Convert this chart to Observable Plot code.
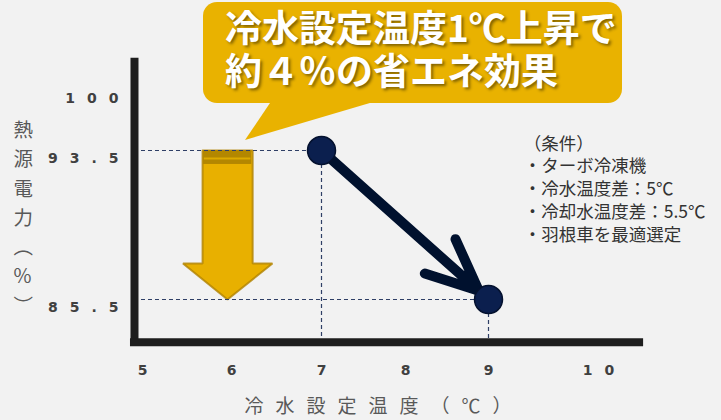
<!DOCTYPE html>
<html><head><meta charset="utf-8">
<script src="https://cdn.jsdelivr.net/npm/d3@7"></script>
<script src="https://cdn.jsdelivr.net/npm/@observablehq/plot@0.6"></script>
<style>
body{margin:0;background:#f2f2f2;}
#wrap{position:relative;width:721px;height:420px;overflow:hidden;}
#wrap svg{position:absolute;left:0;top:0;}
[aria-label="x-axis tick label"] text,[aria-label="y-axis tick label"] text{letter-spacing:12px;}
.bubble{position:absolute;left:203px;top:2px;width:419px;height:101px;border-radius:14px;background:#e9b200;}
.tail{position:absolute;left:245px;top:100px;width:135px;height:40px;background:#e9b200;clip-path:polygon(27px 0px,135px 0px,0px 40px);}
.tline{position:absolute;left:225px;font-family:"Noto Sans CJK JP",sans-serif;font-weight:700;font-size:37px;line-height:43px;height:43px;color:#fff;text-shadow:2px 2px 3px rgba(0,0,0,0.45);white-space:nowrap;}
</style></head><body><div id="wrap"></div>
<script>
// data
const xTicks = [5, 6, 7, 8, 9, 10];
const yTicks = [85.5, 93.5, 100];
const points = [{temp: 7, power: 93.5}, {temp: 9, power: 85.5}];
const titleLines = ["冷水設定温度1℃上昇で", "約４％の省エネ効果"];
const conditions = ["（条件）", "・ターボ冷凍機", "・冷水温度差：5℃", "・冷却水温度差：5.5℃", "・羽根車を最適選定"];
const xLabel = "冷水設定温度（℃）";
const yLabel = ["熱", "源", "電", "力", "︵", "%", "︶"];
// axis extents (data units)
const xAxisStart = 4.91, xAxisEnd = 10.41, yAxisBottom = 83.2, yAxisTop = 103.5;
// yellow down-arrow shape (data units)
const arrowCenter = 5.955, shaftHalf = 0.28, headHalf = 0.5, headBase = 87.43;
const arrowTop = points[0].power, arrowTip = points[1].power;
const arrowShape = [
  [arrowCenter - shaftHalf, arrowTop], [arrowCenter + shaftHalf, arrowTop],
  [arrowCenter + shaftHalf, headBase], [arrowCenter + headHalf, headBase],
  [arrowCenter, arrowTip], [arrowCenter - headHalf, headBase],
  [arrowCenter - shaftHalf, headBase], [arrowCenter - shaftHalf, arrowTop]
].map(([x, y]) => ({x, y}));

const plot = Plot.plot({
  width: 721, height: 420,
  marginLeft: 134, marginRight: 78, marginTop: 58, marginBottom: 74,
  style: {background: "#f2f2f2", fontFamily: "'Noto Sans CJK JP', sans-serif", overflow: "visible"},
  x: {type: "linear", domain: xTicks, range: [142, 231, 321, 405, 488, 598], axis: null},
  y: {type: "linear", domain: yTicks, range: [299, 150, 90], axis: null},
  marks: [
    // yellow arrow
    Plot.line(arrowShape, {x: "x", y: "y", fill: "#e8b000", stroke: "#b08200", strokeWidth: 2, strokeLinejoin: "miter", strokeOpacity: 0.8}),
    Plot.rect([0], {x1: arrowCenter - shaftHalf + 0.01, x2: arrowCenter + shaftHalf - 0.01, y1: arrowTop, y2: arrowTop - 0.75, fill: "#b38700"}),
    Plot.ruleY([arrowTop - 0.43], {x1: arrowCenter - shaftHalf + 0.02, x2: arrowCenter + shaftHalf - 0.02, stroke: "#dcaa00", strokeWidth: 2}),
    // guide lines
    Plot.ruleY(points, {y: "power", x1: xAxisStart, x2: "temp", stroke: "#2f3f66", strokeWidth: 1.2, strokeDasharray: "4,3"}),
    Plot.ruleX(points, {x: "temp", y1: "power", y2: yAxisBottom, stroke: "#2f3f66", strokeWidth: 1.2, strokeDasharray: "4,3"}),
    // axis lines
    Plot.ruleX([xAxisStart], {y1: 83.0, y2: yAxisTop, stroke: "#1e1e1e", strokeWidth: 8}),
    Plot.ruleY([yAxisBottom], {x1: 4.865, x2: xAxisEnd, stroke: "#1e1e1e", strokeWidth: 8}),
    // navy arrow + points
    Plot.arrow([0], {x1: points[0].temp, y1: points[0].power, x2: points[1].temp, y2: points[1].power,
      stroke: "#00112e", strokeWidth: 10, headAngle: 48, headLength: 8.5, insetEnd: 13, strokeLinecap: "round", strokeLinejoin: "round"}),
    Plot.dot(points, {x: "temp", y: "power", r: 14, fill: "#0b1f4e", stroke: "#04112e", strokeWidth: 1.5}),
    // tick labels
    Plot.axisX({ticks: xTicks, anchor: "bottom", tickSize: 0, tickPadding: 19, label: null, tickFormat: d => String(d),
      fontSize: 14, fontWeight: "bold", fill: "#404040", fontFamily: "DejaVu Sans", dx: 6}),
    Plot.axisY({ticks: yTicks, anchor: "left", tickSize: 0, tickPadding: 4, label: null, tickFormat: d => String(d),
      fontSize: 14, fontWeight: "bold", fill: "#404040", fontFamily: "DejaVu Sans", dy: 8}),
    // axis titles
    Plot.text([yLabel.join("\n")], {frameAnchor: "left", dx: -121, dy: 13, fontSize: 19.5, lineHeight: 1.5, fill: "#595959"}),
    Plot.text([xLabel], {frameAnchor: "bottom", dx: -5, dy: 66, fontSize: 19, fill: "#595959"}),
    // conditions
    Plot.text([conditions.join("\n")], {x: 9.32, y: 95.35, textAnchor: "start", lineAnchor: "top", fontSize: 17.5, lineHeight: 1.3, fill: "#333333"})
  ]
});

d3.select(plot).selectAll("text").filter(function() { return this.textContent === xLabel; }).style("letter-spacing", "12px");

const wrap = document.getElementById("wrap");
wrap.appendChild(plot);
const bubble = document.createElement("div"); bubble.className = "bubble"; wrap.appendChild(bubble);
const tail = document.createElement("div"); tail.className = "tail"; wrap.appendChild(tail);
titleLines.forEach((t, i) => {
  const d = document.createElement("div");
  d.className = "tline";
  d.style.top = (5 + i * 43) + "px";
  d.textContent = t;
  wrap.appendChild(d);
});
</script></body></html>
